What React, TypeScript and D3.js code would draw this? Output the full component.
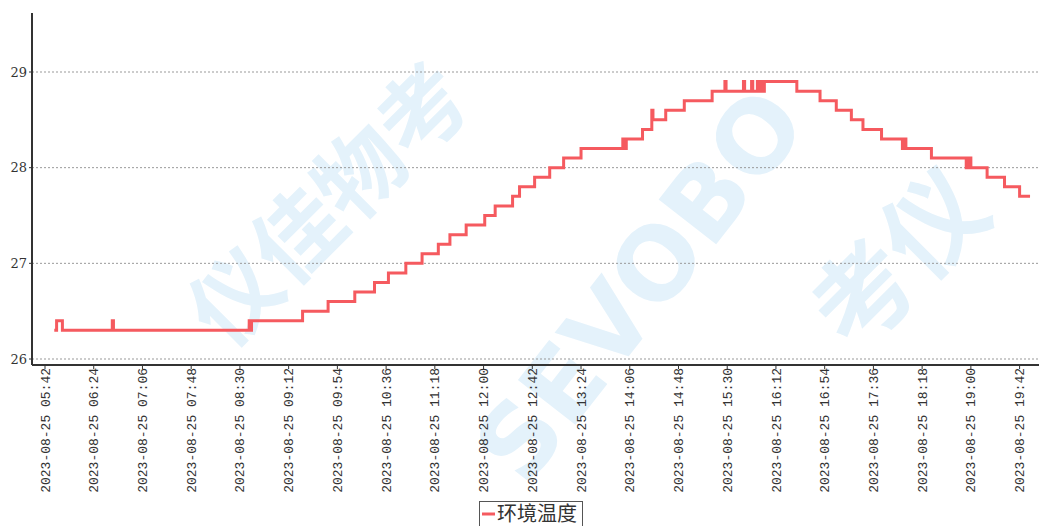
import React from "react";
import * as d3 from "d3";

const DAY = "2023-08-25";
const seriesName = "环境温度";
const tickTimes = ["05:42","06:24","07:06","07:48","08:30","09:12","09:54","10:36","11:18","12:00","12:42","13:24","14:06","14:48","15:30","16:12","16:54","17:36","18:18","19:00","19:42"];
const yTicks = [26, 27, 28, 29];

// times at which the reading changes, and the reading from then on
const changeTimes = ["05:50","05:52","05:57","06:40","06:41","08:38","08:39","08:40","09:24","09:46","10:09","10:26","10:38","10:53","11:07","11:21","11:31","11:45","12:01","12:10","12:25","12:31","12:44","12:57","13:09","13:24","14:00","14:01","14:03","14:17","14:25","14:26","14:37","14:53","15:17","15:28","15:29","15:44","15:45","15:51","15:52","15:56","15:57","15:59","16:00","16:02","16:30","16:50","17:04","17:17","17:27","17:43","18:01","18:02","18:04","18:26","18:56","18:57","18:58","18:59","19:00","19:14","19:29","19:42","19:51"];
const changeValues = [26.3,26.4,26.3,26.4,26.3,26.4,26.3,26.4,26.5,26.6,26.7,26.8,26.9,27.0,27.1,27.2,27.3,27.4,27.5,27.6,27.7,27.8,27.9,28.0,28.1,28.2,28.3,28.2,28.3,28.4,28.6,28.5,28.6,28.7,28.8,28.9,28.8,28.9,28.8,28.9,28.8,28.9,28.8,28.9,28.8,28.9,28.8,28.7,28.6,28.5,28.4,28.3,28.2,28.3,28.2,28.1,28.0,28.1,28.0,28.1,28.0,27.9,27.8,27.7,27.7];

const W = 1039, H = 526;
const parse = d3.timeParse("%Y-%m-%d %H:%M");

export default function App() {
  const t = (s: string) => parse(`${DAY} ${s}`) as Date;
  const x = d3.scaleTime().domain([t(tickTimes[0]), t(tickTimes[tickTimes.length - 1])]).range([45, 1019.6]);
  const y = d3.scaleLinear().domain([26, 29]).range([359, 72]);
  const pts = changeTimes.map((s, i) => [t(s), changeValues[i]] as [Date, number]);
  const line = d3.line<[Date, number]>().x(d => x(d[0])).y(d => y(d[1])).curve(d3.curveStepAfter);
  const axisX0 = 32, axisY = 365;
  const wm = "#e4f2fb";
  return (
    <svg width={W} height={H} style={{ position: "absolute", left: 0, top: 0, background: "#fff" }}>
      <g fill={wm} fontFamily="'Noto Sans CJK SC', sans-serif" fontWeight={700}>
        <text x={0} y={0} dy="0.35em" fontSize={88} transform="translate(330,205) rotate(-45)" textAnchor="middle">仪佳物考</text>
        <text x={0} y={0} dy="0.35em" fontSize={100} transform="translate(640,285) rotate(-52)" textAnchor="middle" fontFamily="'DejaVu Sans', sans-serif">SEVOBO</text>
        <text x={0} y={0} dy="0.35em" fontSize={100} transform="translate(900,260) rotate(-45)" textAnchor="middle">考仪</text>
      </g>
      {yTicks.map(v => (
        <g key={v}>
          <line x1={axisX0} x2={W} y1={y(v)} y2={y(v)} stroke="#999" strokeWidth={1} strokeDasharray="2,2" />
          <line x1={axisX0 - 3} x2={axisX0} y1={y(v)} y2={y(v)} stroke="#333" />
          <text x={27} y={y(v)} dy="0.35em" textAnchor="end" fontSize={13} fill="#333" fontFamily="'DejaVu Serif', serif">{v}</text>
        </g>
      ))}
      <line x1={axisX0} x2={axisX0} y1={13} y2={axisY} stroke="#333" strokeWidth={2} />
      <line x1={axisX0} x2={W} y1={axisY} y2={axisY} stroke="#333" strokeWidth={2} />
      {tickTimes.map(s => {
        const px = x(t(s));
        return (
          <g key={s}>
            <line x1={px} x2={px} y1={axisY} y2={axisY + 4} stroke="#333" />
            <text transform={`translate(${px},${axisY + 3}) rotate(-90)`} dy="0.35em" textAnchor="end" fontSize={13} fill="#333" fontFamily="'Liberation Mono', monospace">{`${DAY} ${s}`}</text>
          </g>
        );
      })}
      <path d={line(pts) || ""} fill="none" stroke="#f55a5f" strokeWidth={3} strokeLinejoin="miter" />
      <g>
        <rect x={479.5} y={501.5} width={103} height={40} fill="#fff" stroke="#555" />
        <line x1={482} x2={495} y1={514} y2={514} stroke="#f55a5f" strokeWidth={3} />
        <text x={497} y={521} fontSize={20} fill="#333" fontFamily="'Noto Sans CJK SC', sans-serif">{seriesName}</text>
      </g>
    </svg>
  );
}
